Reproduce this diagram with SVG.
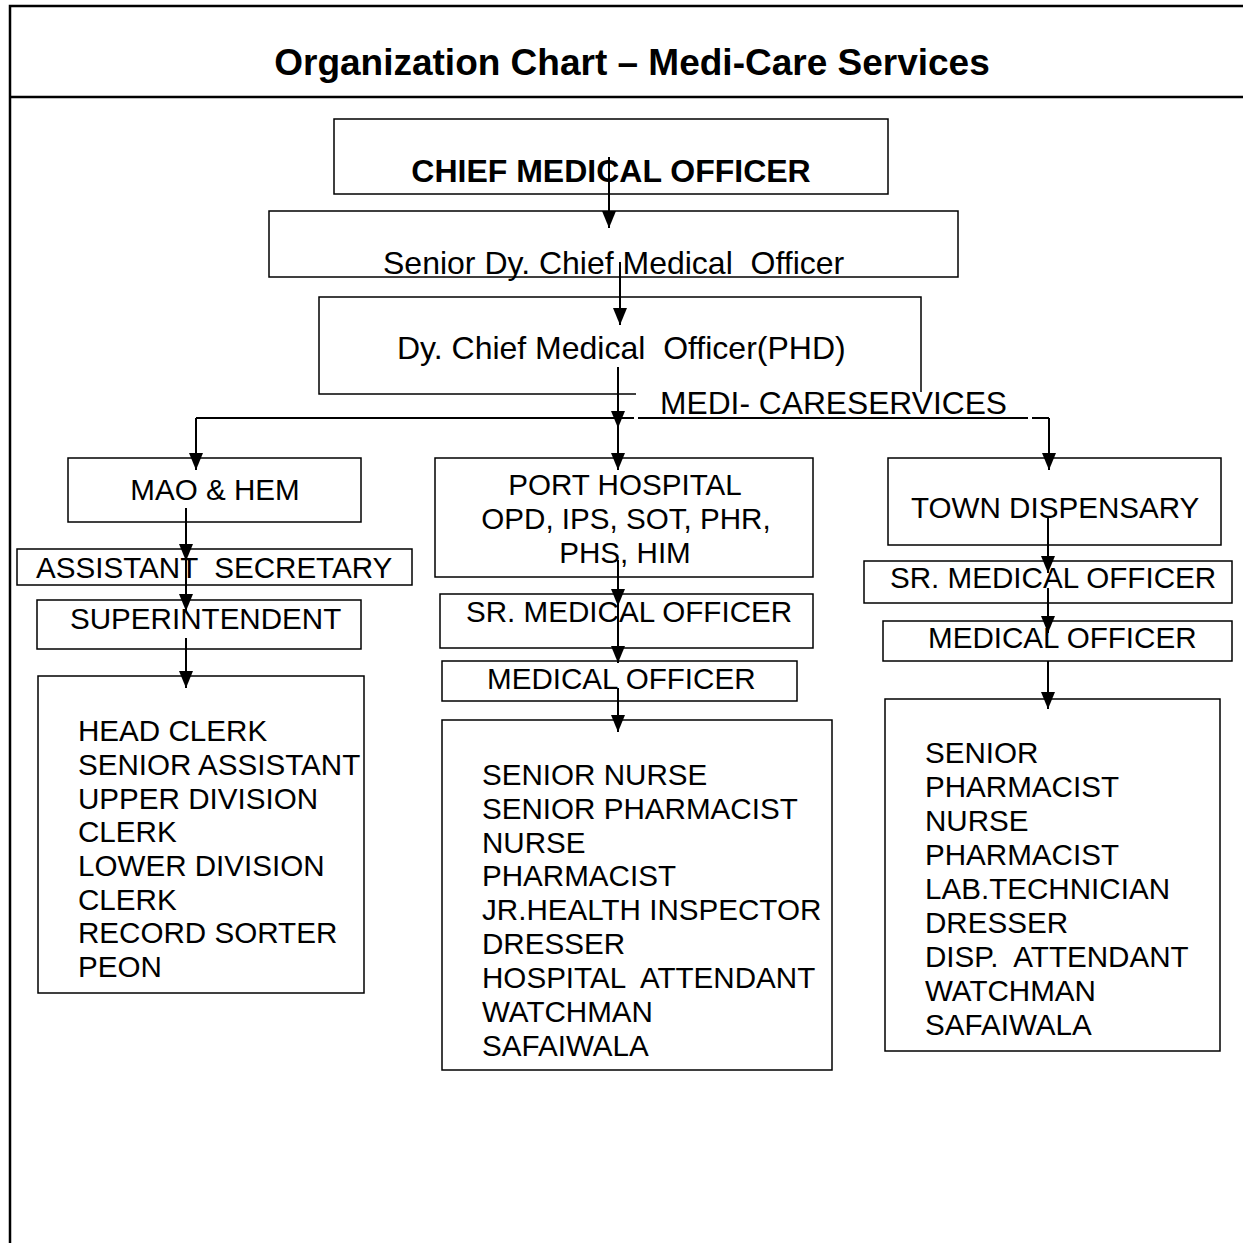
<svg xmlns="http://www.w3.org/2000/svg" width="1243" height="1243" viewBox="0 0 1243 1243">
  <style>
    text { font-family: "Liberation Sans", Arial, sans-serif; fill: #000; }
    .pre { white-space: pre; }
    .title { font-size: 37px; font-weight: bold; }
    .big { font-size: 32px; }
    .bold { font-weight: bold; }
    .lbl { font-size: 29.6px; }
    .box { fill: #fff; stroke: #000; stroke-width: 1.5; }
    .frame { stroke: #000; stroke-width: 2.5; fill: none; }
    .conn { stroke: #000; stroke-width: 2; fill: none; }
  </style>
  <defs>
    <!-- downward arrowhead, tip at the end of the line -->
    <marker id="arrowDown" markerUnits="userSpaceOnUse" markerWidth="17" markerHeight="14" refX="17" refY="7" orient="auto" viewBox="0 0 17 14">
      <path d="M0,0 L17,7 L0,14 Z" fill="#000"/>
    </marker>
  </defs>

  <!-- page frame and header rule -->
  <g id="frame">
    <path class="frame" d="M10,1243 V6 H1243"/>
    <path class="frame" d="M10,97 H1243"/>
    <text class="title" x="632" y="75" text-anchor="middle">Organization Chart – Medi-Care Services</text>
  </g>

  <!-- top of the hierarchy -->
  <g id="node-cmo">
    <rect class="box" x="334" y="119" width="554" height="75"/>
    <text class="big bold" x="611" y="182" text-anchor="middle">CHIEF MEDICAL OFFICER</text>
  </g>
  <g id="node-sdcmo">
    <rect class="box" x="269" y="211" width="689" height="66"/>
    <text class="big pre" x="383" y="274" xml:space="preserve">Senior Dy. Chief Medical  Officer</text>
  </g>
  <g id="node-dcmo">
    <rect class="box" x="319" y="297" width="602" height="97"/>
    <text class="big pre" x="397" y="359" xml:space="preserve">Dy. Chief Medical  Officer(PHD)</text>
  </g>
  <g id="label-medicare">
    <rect x="636" y="392" width="394" height="24" fill="#fff"/>
    <text class="big" x="660" y="414" textLength="347" lengthAdjust="spacingAndGlyphs">MEDI- CARESERVICES</text>
  </g>

  <!-- left branch -->
  <g id="node-mao">
    <rect class="box" x="68" y="458" width="293" height="64"/>
    <text class="lbl" x="215" y="500" text-anchor="middle">MAO &amp; HEM</text>
  </g>
  <g id="node-asst-secretary">
    <rect class="box" x="17" y="549" width="395" height="36"/>
    <text class="lbl pre" x="36" y="578" xml:space="preserve">ASSISTANT  SECRETARY</text>
  </g>
  <g id="node-superintendent">
    <rect class="box" x="37" y="600" width="324" height="49"/>
    <text class="lbl" x="70" y="629">SUPERINTENDENT</text>
  </g>
  <g id="node-office-staff">
    <rect class="box" x="38" y="676" width="326" height="317"/>
    <text class="lbl">
      <tspan x="78" y="741">HEAD CLERK</tspan>
      <tspan x="78" y="775">SENIOR ASSISTANT</tspan>
      <tspan x="78" y="809">UPPER DIVISION</tspan>
      <tspan x="78" y="842">CLERK</tspan>
      <tspan x="78" y="876">LOWER DIVISION</tspan>
      <tspan x="78" y="910">CLERK</tspan>
      <tspan x="78" y="943">RECORD SORTER</tspan>
      <tspan x="78" y="977">PEON</tspan>
    </text>
  </g>

  <!-- centre branch -->
  <g id="node-port-hospital">
    <rect class="box" x="435" y="458" width="378" height="119"/>
    <text class="lbl" x="625" y="495" text-anchor="middle">PORT HOSPITAL</text>
    <text class="lbl" x="626" y="529" text-anchor="middle">OPD, IPS, SOT, PHR,</text>
    <text class="lbl" x="625" y="563" text-anchor="middle">PHS, HIM</text>
  </g>
  <g id="node-port-sr-mo">
    <rect class="box" x="440" y="594" width="373" height="54"/>
    <text class="lbl" x="466" y="622">SR. MEDICAL OFFICER</text>
  </g>
  <g id="node-port-mo">
    <rect class="box" x="442" y="661" width="355" height="40"/>
    <text class="lbl" x="487" y="689">MEDICAL OFFICER</text>
  </g>
  <g id="node-port-staff">
    <rect class="box" x="442" y="720" width="390" height="350"/>
    <text class="lbl">
      <tspan x="482" y="785">SENIOR NURSE</tspan>
      <tspan x="482" y="819">SENIOR PHARMACIST</tspan>
      <tspan x="482" y="853">NURSE</tspan>
      <tspan x="482" y="886">PHARMACIST</tspan>
      <tspan x="482" y="920">JR.HEALTH INSPECTOR</tspan>
      <tspan x="482" y="954">DRESSER</tspan>
    </text>
    <text class="lbl pre" x="482" y="988" xml:space="preserve">HOSPITAL  ATTENDANT</text>
    <text class="lbl">
      <tspan x="482" y="1022">WATCHMAN</tspan>
      <tspan x="482" y="1056">SAFAIWALA</tspan>
    </text>
  </g>

  <!-- right branch -->
  <g id="node-town-dispensary">
    <rect class="box" x="888" y="458" width="333" height="87"/>
    <text class="lbl" x="911" y="518">TOWN DISPENSARY</text>
  </g>
  <g id="node-town-sr-mo">
    <rect class="box" x="864" y="561" width="368" height="42"/>
    <text class="lbl" x="890" y="588">SR. MEDICAL OFFICER</text>
  </g>
  <g id="node-town-mo">
    <rect class="box" x="883" y="621" width="349" height="40"/>
    <text class="lbl" x="928" y="648">MEDICAL OFFICER</text>
  </g>
  <g id="node-town-staff">
    <rect class="box" x="885" y="699" width="335" height="352"/>
    <text class="lbl">
      <tspan x="925" y="763">SENIOR</tspan>
      <tspan x="925" y="797">PHARMACIST</tspan>
      <tspan x="925" y="831">NURSE</tspan>
      <tspan x="925" y="865">PHARMACIST</tspan>
      <tspan x="925" y="899">LAB.TECHNICIAN</tspan>
      <tspan x="925" y="933">DRESSER</tspan>
    </text>
    <text class="lbl pre" x="925" y="967" xml:space="preserve">DISP.  ATTENDANT</text>
    <text class="lbl">
      <tspan x="925" y="1001">WATCHMAN</tspan>
      <tspan x="925" y="1035">SAFAIWALA</tspan>
    </text>
  </g>

  <!-- connectors -->
  <g id="connectors">
    <path class="conn" d="M609,157 V228" marker-end="url(#arrowDown)"/>
    <path class="conn" d="M620,262 V325" marker-end="url(#arrowDown)"/>
    <path class="conn" d="M618,367 V428" marker-end="url(#arrowDown)"/>
    <path class="conn" d="M618,428 V470" marker-end="url(#arrowDown)"/>
    <path class="conn" d="M196,418 H634 M638,418 H1028 M1032,418 H1049"/>
    <path class="conn" d="M196,418 V470" marker-end="url(#arrowDown)"/>
    <path class="conn" d="M1049,418 V470" marker-end="url(#arrowDown)"/>
    <path class="conn" d="M186,508 V561" marker-end="url(#arrowDown)"/>
    <path class="conn" d="M186,561 V611" marker-end="url(#arrowDown)"/>
    <path class="conn" d="M186,638 V688" marker-end="url(#arrowDown)"/>
    <path class="conn" d="M618,560 V606" marker-end="url(#arrowDown)"/>
    <path class="conn" d="M618,606 V663" marker-end="url(#arrowDown)"/>
    <path class="conn" d="M618,688 V732" marker-end="url(#arrowDown)"/>
    <path class="conn" d="M1048,516 V573" marker-end="url(#arrowDown)"/>
    <path class="conn" d="M1048,588 V633" marker-end="url(#arrowDown)"/>
    <path class="conn" d="M1048,661 V709" marker-end="url(#arrowDown)"/>
  </g>
</svg>
